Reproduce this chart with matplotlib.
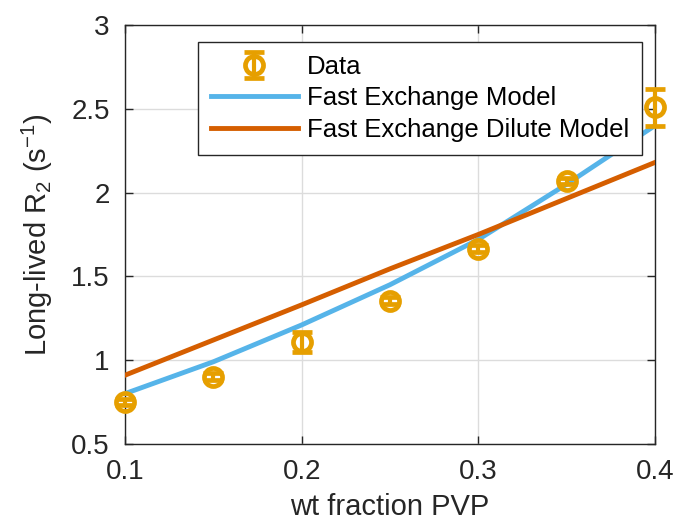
import matplotlib
matplotlib.use("Agg")
import matplotlib.pyplot as plt

plt.rcParams['font.family'] = ['Liberation Sans', 'DejaVu Sans']
plt.rcParams['mathtext.fontset'] = 'custom'
plt.rcParams['mathtext.rm'] = 'Liberation Sans'

wt = [0.10, 0.15, 0.20, 0.25, 0.30, 0.35, 0.40]
r2_data = [0.75, 0.90, 1.11, 1.355, 1.665, 2.07, 2.51]
r2_err = [0.02, 0.02, 0.06, 0.02, 0.02, 0.02, 0.11]
fast_model = [0.80, 0.99, 1.21, 1.45, 1.72, 2.05, 2.40]
dilute_model = [0.91, 1.12, 1.33, 1.545, 1.75, 1.965, 2.18]

xticks = [0.1, 0.2, 0.3, 0.4]
yticks = [0.5, 1, 1.5, 2, 2.5, 3]

c_data = '#E69F00'
c_fast = '#56B4E9'
c_dil = '#D55E00'

fig = plt.figure(figsize=(6.8, 5.24), dpi=100)
ax = fig.add_axes([0.184, 0.153, 0.779, 0.799])

eb = ax.errorbar(wt, r2_data, yerr=r2_err, fmt='o', color=c_data, mfc='none',
                 mec=c_data, ms=13, mew=3.4, elinewidth=3, capsize=7, capthick=3,
                 label='Data', zorder=4)
for art in eb.get_children():
    art.set_clip_on(False)
ax.plot(wt, fast_model, color=c_fast, lw=3.5, label='Fast Exchange Model', zorder=3)
ax.plot(wt, dilute_model, color=c_dil, lw=3.5, label='Fast Exchange Dilute Model', zorder=3)

ax.set_xlim(0.1, 0.4)
ax.set_ylim(0.5, 3)
ax.set_xticks(xticks)
ax.set_xticklabels(['0.1', '0.2', '0.3', '0.4'])
ax.set_yticks(yticks)
ax.set_yticklabels(['0.5', '1', '1.5', '2', '2.5', '3'])
ax.grid(True, color='#dcdcdc', lw=1)
ax.set_axisbelow(True)
ax.tick_params(direction='in', length=6, width=1, labelsize=20, colors='#262626',
               top=True, right=True, pad=11)
for s in ax.spines.values():
    s.set_color('#262626')
    s.set_linewidth(1)

ax.set_xlabel('wt fraction PVP', fontsize=21, color='#262626', labelpad=6)
ax.set_ylabel(r'Long-lived R$_\mathregular{2}$ (s$^\mathregular{-1}$)', fontsize=21,
              color='#262626', labelpad=12)

handles, labels = ax.get_legend_handles_labels()
order = [labels.index('Data'), labels.index('Fast Exchange Model'),
         labels.index('Fast Exchange Dilute Model')]
leg = ax.legend([handles[i] for i in order], [labels[i] for i in order],
                loc='upper right', bbox_to_anchor=(0.9758, 0.960), fontsize=18.5,
                fancybox=False, framealpha=1, edgecolor='#262626',
                handlelength=3.4, borderpad=0.5, labelspacing=0.3, handletextpad=0.35,
                borderaxespad=0)
leg.get_frame().set_linewidth(1)

fig.savefig('out.png', dpi=100)
